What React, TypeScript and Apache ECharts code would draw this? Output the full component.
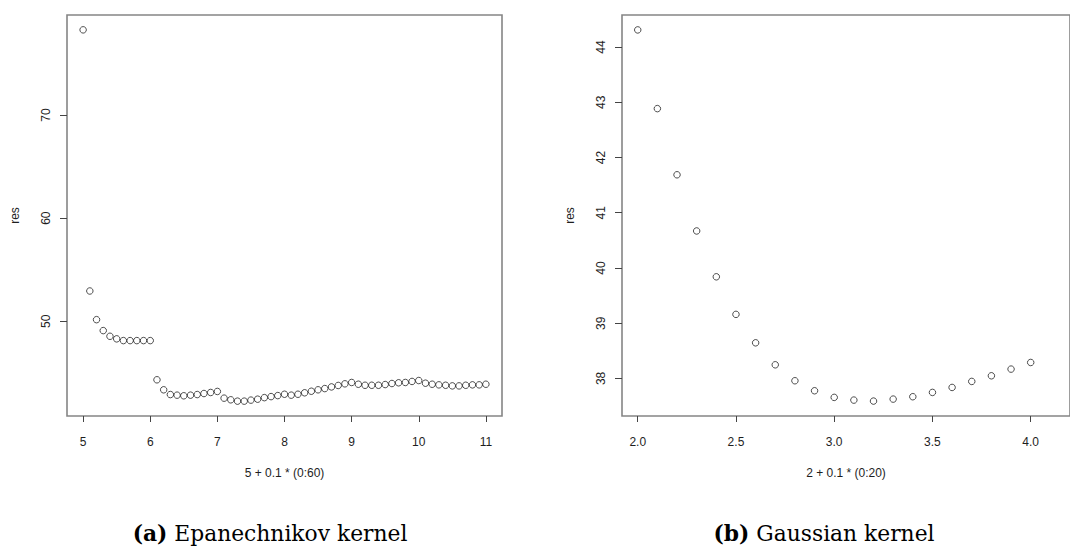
import React, { useEffect, useRef } from "react";
import * as echarts from "echarts";

// (a) Epanechnikov kernel: x = 5 + 0.1 * (0:60)
const epaX = [
  5.0, 5.1, 5.2, 5.3, 5.4, 5.5, 5.6, 5.7, 5.8, 5.9,
  6.0, 6.1, 6.2, 6.3, 6.4, 6.5, 6.6, 6.7, 6.8, 6.9,
  7.0, 7.1, 7.2, 7.3, 7.4, 7.5, 7.6, 7.7, 7.8, 7.9,
  8.0, 8.1, 8.2, 8.3, 8.4, 8.5, 8.6, 8.7, 8.8, 8.9,
  9.0, 9.1, 9.2, 9.3, 9.4, 9.5, 9.6, 9.7, 9.8, 9.9,
  10.0, 10.1, 10.2, 10.3, 10.4, 10.5, 10.6, 10.7, 10.8, 10.9,
  11.0,
];
const epaRes = [
  78.26, 52.94, 50.16, 49.1, 48.55, 48.3, 48.13, 48.13, 48.13, 48.13,
  48.13, 44.33, 43.36, 42.9, 42.84, 42.78, 42.84, 42.9, 43.0, 43.1,
  43.2, 42.55, 42.39, 42.26, 42.26, 42.36, 42.45, 42.6, 42.7, 42.8,
  42.93, 42.84, 42.93, 43.07, 43.22, 43.36, 43.48, 43.64, 43.78, 43.94,
  44.07, 43.9, 43.8, 43.8, 43.8, 43.87, 43.97, 44.04, 44.07, 44.17,
  44.26, 44.0, 43.9, 43.84, 43.8, 43.74, 43.74, 43.8, 43.84, 43.84,
  43.9,
];

// (b) Gaussian kernel: x = 2 + 0.1 * (0:20)
const gauX = [
  2.0, 2.1, 2.2, 2.3, 2.4, 2.5, 2.6, 2.7, 2.8, 2.9,
  3.0, 3.1, 3.2, 3.3, 3.4, 3.5, 3.6, 3.7, 3.8, 3.9, 4.0,
];
const gauRes = [
  44.31, 42.885, 41.687, 40.67, 39.84, 39.16, 38.645, 38.247, 37.958, 37.777,
  37.657, 37.608, 37.59, 37.626, 37.669, 37.747, 37.837, 37.946, 38.048, 38.169,
  38.289,
];

const epaXTicks = [5, 6, 7, 8, 9, 10, 11];
const epaYTicks = [50, 60, 70];
const gauXTicks = [2.0, 2.5, 3.0, 3.5, 4.0];
const gauYTicks = [38, 39, 40, 41, 42, 43, 44];

const xNameA = "5 + 0.1 * (0:60)";
const xNameB = "2 + 0.1 * (0:20)";
const yName = "res";
const captionA = ["(a)", "Epanechnikov kernel"];
const captionB = ["(b)", "Gaussian kernel"];

const SANS = "'Liberation Sans', Arial, sans-serif";
const SERIF = "'DejaVu Serif', serif";
const TXT = "#1e1e1e";

function xAxisCfg(gridIndex: number, min: number, max: number, ticks: number[], name: string, fmt: (v: number) => string) {
  return {
    type: "value",
    gridIndex,
    min,
    max,
    name,
    nameLocation: "middle",
    nameGap: 51,
    nameTextStyle: { fontFamily: SANS, fontSize: 12, color: TXT, verticalAlign: "top" },
    axisLine: { show: false },
    splitLine: { show: false },
    axisTick: { show: true, length: 6, customValues: ticks, lineStyle: { color: "#444", width: 1 } },
    axisLabel: { customValues: ticks, margin: 20, fontFamily: SANS, fontSize: 12, color: TXT, formatter: fmt },
  };
}

function yAxisCfg(gridIndex: number, min: number, max: number, ticks: number[]) {
  return {
    type: "value",
    gridIndex,
    min,
    max,
    name: yName,
    nameLocation: "middle",
    nameGap: 46,
    nameTextStyle: { fontFamily: SANS, fontSize: 12, color: TXT },
    axisLine: { show: false },
    splitLine: { show: false },
    axisTick: { show: true, length: 7, customValues: ticks, lineStyle: { color: "#444", width: 1 } },
    axisLabel: { customValues: ticks, rotate: 90, margin: 15, fontFamily: SANS, fontSize: 12, color: TXT },
  };
}

function caption(x: number, parts: string[]) {
  return {
    type: "text",
    x,
    y: 533,
    style: {
      text: `{b|${parts[0]}} {r|${parts[1]}}`,
      align: "center",
      verticalAlign: "middle",
      rich: {
        b: { fontFamily: SERIF, fontSize: 21.8, fontWeight: "bold", fill: "#000" },
        r: { fontFamily: SERIF, fontSize: 21.8, fill: "#000" },
      },
      fontFamily: SERIF,
      fontSize: 21.8,
      fill: "#000",
    },
  };
}

export default function App() {
  const ref = useRef<HTMLDivElement>(null);
  useEffect(() => {
    const chart = echarts.init(ref.current!, null, { renderer: "svg" });
    const pointStyle = {
      symbol: "circle",
      symbolSize: 6.5,
      itemStyle: { color: "rgba(0,0,0,0)", borderColor: "#222", borderWidth: 1 },
    };
    chart.setOption({
      animation: false,
      backgroundColor: "#fff",
      grid: [
        { left: 67, top: 15, width: 435, height: 401, show: true, borderColor: "#858585", borderWidth: 1.6, backgroundColor: "transparent" },
        { left: 622, top: 15, width: 458, height: 401, show: true, borderColor: "#858585", borderWidth: 1.6, backgroundColor: "transparent" },
      ],
      xAxis: [
        xAxisCfg(0, 4.76, 11.24, epaXTicks, xNameA, (v: number) => String(v)),
        xAxisCfg(1, 1.92, 4.2, gauXTicks, xNameB, (v: number) => v.toFixed(1)),
      ],
      yAxis: [
        yAxisCfg(0, 40.82, 79.7, epaYTicks),
        yAxisCfg(1, 37.32, 44.58, gauYTicks),
      ],
      series: [
        {
          type: "scatter",
          xAxisIndex: 0,
          yAxisIndex: 0,
          data: epaX.map((x, i) => [x, epaRes[i]]),
          ...pointStyle,
        },
        {
          type: "scatter",
          xAxisIndex: 1,
          yAxisIndex: 1,
          data: gauX.map((x, i) => [x, gauRes[i]]),
          ...pointStyle,
        },
      ],
      graphic: [caption(270, captionA), caption(824, captionB)],
    });
    return () => chart.dispose();
  }, []);
  return (
    <div
      ref={ref}
      style={{ position: "absolute", left: 0, top: 0, width: 1070, height: 548, background: "#fff", overflow: "hidden" }}
    />
  );
}
